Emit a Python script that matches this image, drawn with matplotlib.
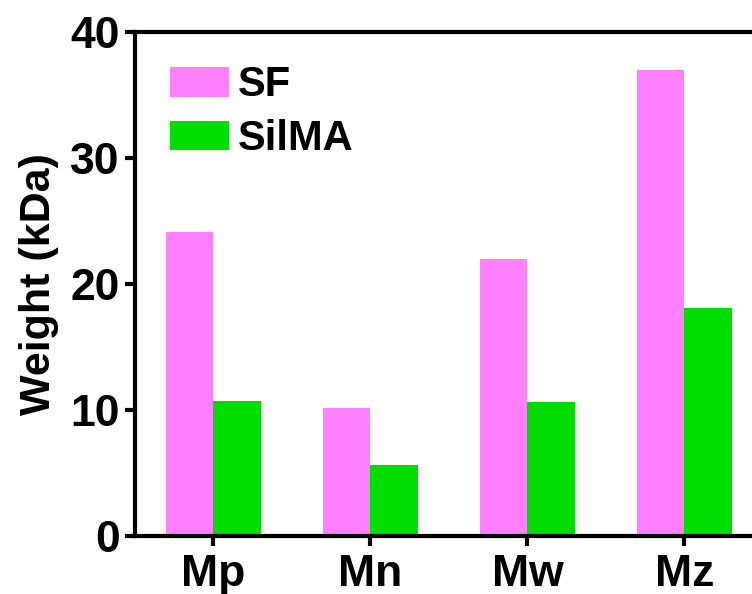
import numpy as np
import matplotlib.pyplot as plt

categories = ['Mp', 'Mn', 'Mw', 'Mz']
sf = [24.1, 10.2, 22.0, 37.0]
silma = [10.7, 5.6, 10.6, 18.1]

plt.rcParams['font.family'] = 'Liberation Sans'
plt.rcParams['font.weight'] = 'bold'

fig = plt.figure(figsize=(7.52, 5.94), dpi=100)
ax = fig.add_axes([0.1795, 0.0976, 0.835, 0.8484])

x = np.arange(len(categories))
w = 0.3
ax.bar(x - w/2, sf, w, color='#ff80ff', label='SF')
ax.bar(x + w/2, silma, w, color='#00dd00', label='SilMA')

ax.set_xlim(-0.5, 3.5)
ax.set_ylim(0, 40)
ax.set_yticks([0, 10, 20, 30, 40])
ax.set_xticks(x)
ax.set_xticklabels(categories)
ax.tick_params(axis='both', width=3, length=7, labelsize=32)
ax.tick_params(axis='x', pad=6)
ax.tick_params(axis='y', pad=4)
for s in ['left', 'bottom', 'top']:
    ax.spines[s].set_linewidth(3)
ax.spines['right'].set_visible(False)

ax.set_ylabel('Weight (kDa)', fontsize=31, fontweight='bold', labelpad=8)

ax.legend(loc='upper left', frameon=False, fontsize=30,
          handlelength=1.42, handleheight=0.72, handletextpad=0.2,
          labelspacing=0.33, borderaxespad=0.0, bbox_to_anchor=(0.029, 0.967))

fig.savefig('out.png', dpi=100)
